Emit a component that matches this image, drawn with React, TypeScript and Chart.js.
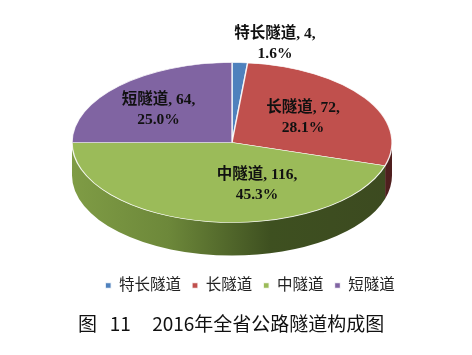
import React, { useEffect, useRef } from "react";
import { Chart, registerables } from "chart.js";

Chart.register(...registerables);

const categories = ["特长隧道", "长隧道", "中隧道", "短隧道"];
const tunnelCounts = [4, 72, 116, 64];
const percentLabels = ["1.6%", "28.1%", "45.3%", "25.0%"];
const sliceColors = ["#4f81bd", "#c0504d", "#9bbb59", "#8064a2"];

const TITLE = "图   11     2016年全省公路隧道构成图";
const CX = 232;
const CY = 142.5;
const RX = 160;
const RY = 80;
const DEPTH = 33;
const labelAnchors = [
  [275, 34],
  [303, 108],
  [257, 175],
  [158.5, 100],
];
const SERIF = '"Liberation Serif", "Noto Sans CJK SC", serif';

function wallFill(ctx: CanvasRenderingContext2D, index: number) {
  if (index === 1) return "#4f1f1e";
  const g = ctx.createLinearGradient(CX - RX, 0, CX + RX, 0);
  g.addColorStop(0, "#7f9c45");
  g.addColorStop(0.3, "#6d883a");
  g.addColorStop(0.62, "#3e5020");
  g.addColorStop(1, "#3c4a20");
  return g;
}

const pie3d = {
  id: "pie3d",
  beforeDatasetsDraw(chart: any) {
    const { ctx } = chart;
    const arcs = chart.getDatasetMeta(0).data;
    ctx.save();
    arcs.forEach((arc: any, i: number) => {
      const a = Math.max(arc.startAngle, 0);
      const b = Math.min(arc.endAngle, Math.PI);
      if (b <= a) return;
      ctx.beginPath();
      ctx.ellipse(CX, CY, RX, RY, 0, a, b, false);
      ctx.ellipse(CX, CY + DEPTH, RX, RY, 0, b, a, true);
      ctx.closePath();
      ctx.fillStyle = wallFill(ctx, i);
      ctx.fill();
    });
    ctx.restore();
    const area = chart.chartArea;
    ctx.save();
    ctx.translate(CX, CY);
    ctx.scale(1, RY / RX);
    ctx.translate(-(area.left + area.right) / 2, -(area.top + area.bottom) / 2);
  },
  afterDatasetsDraw(chart: any) {
    const { ctx } = chart;
    ctx.restore();
    ctx.save();
    ctx.font = `bold 15.5px ${SERIF}`;
    ctx.fillStyle = "#111111";
    ctx.textAlign = "center";
    ctx.textBaseline = "middle";
    categories.forEach((name, i) => {
      const [x, y] = labelAnchors[i];
      ctx.fillText(`${name}, ${tunnelCounts[i]},`, x, y);
      ctx.fillText(percentLabels[i], x, y + 19.5);
    });
    ctx.restore();
  },
};

export default function App() {
  const ref = useRef<HTMLCanvasElement>(null);
  useEffect(() => {
    const chart = new Chart(ref.current!, {
      type: "pie",
      data: {
        labels: categories,
        datasets: [
          {
            data: tunnelCounts,
            backgroundColor: sliceColors,
            borderColor: "rgba(255,255,255,0.85)",
            borderWidth: 1.4,
            clip: false,
          } as any,
        ],
      },
      options: {
        animation: false,
        responsive: false,
        radius: 160,
        layout: { padding: { left: 78, right: 50, top: 0, bottom: 20 } },
        plugins: {
          tooltip: { enabled: false },
          title: {
            display: true,
            position: "bottom",
            align: "start",
            text: TITLE,
            color: "#111111",
            padding: { top: 9, bottom: 0 },
            font: { family: '"Noto Sans CJK SC"', size: 19, weight: "normal", lineHeight: 1.2 },
          },
          legend: {
            position: "bottom",
            labels: {
              boxWidth: 6,
              boxHeight: 6,
              padding: 11,
              color: "#222222",
              font: { family: SERIF, size: 15.5 },
            },
          },
        },
      } as any,
      plugins: [pie3d],
    });
    return () => chart.destroy();
  }, []);
  return (
    <div style={{ position: "absolute", left: 0, top: 0, width: 472, height: 355, background: "#fff" }}>
      <canvas ref={ref} width={472} height={355} style={{ display: "block" }} />
    </div>
  );
}
